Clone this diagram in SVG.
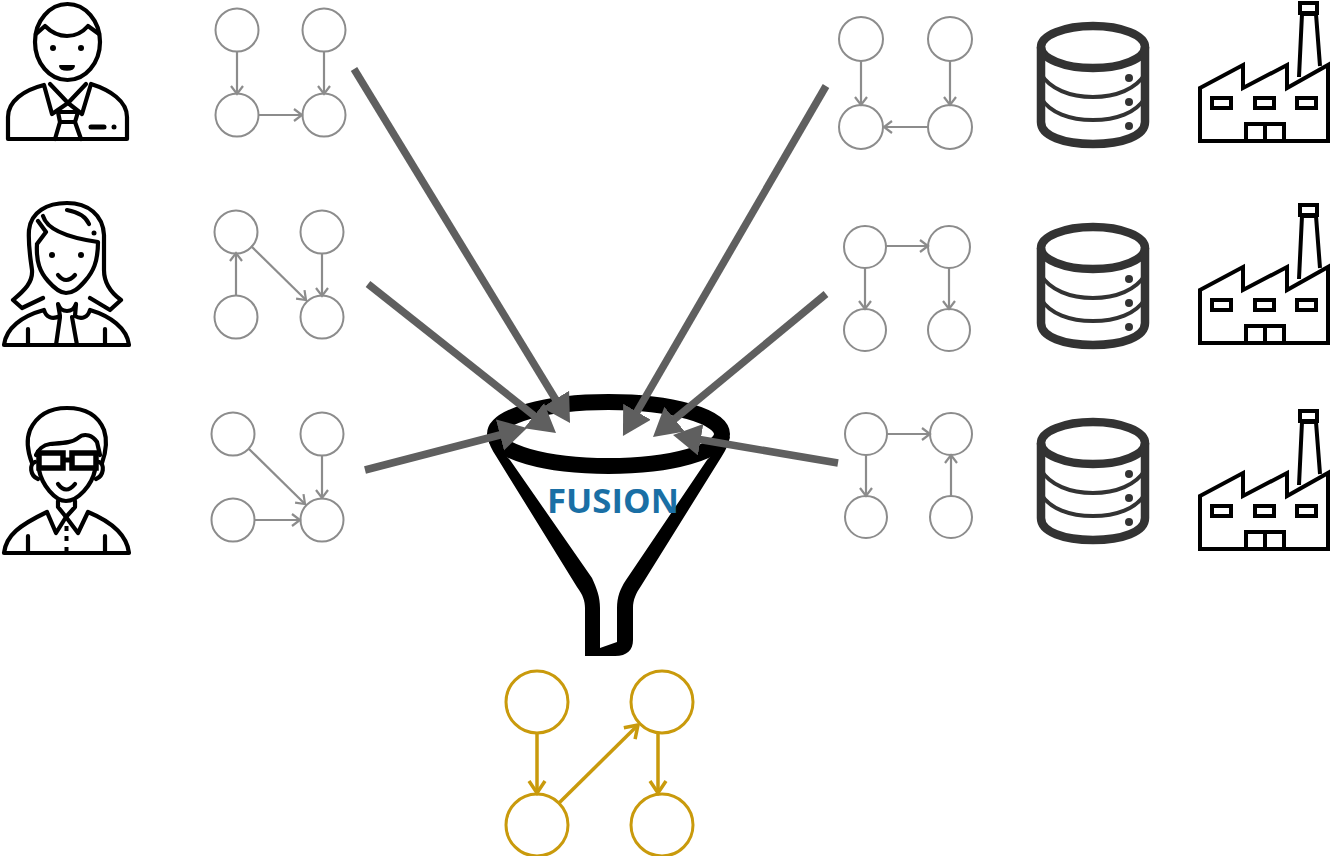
<svg xmlns="http://www.w3.org/2000/svg" width="1333" height="856" viewBox="0 0 1333 856">
<style>
.ico{fill:none;stroke:#000;stroke-width:4.2;stroke-linejoin:round;stroke-linecap:round}
.fac{fill:none;stroke:#000;stroke-width:4;stroke-linejoin:miter}
.db{fill:none;stroke:#333}
.g{fill:none;stroke:#8c8c8c;stroke-width:2}
.ga{fill:none;stroke:#8c8c8c;stroke-width:2.200;marker-end:url(#grey)}
.y{fill:none;stroke:#c99a0c;stroke-width:3}
.ya{fill:none;stroke:#c99a0c;stroke-width:3.500;marker-end:url(#gold)}
.big{fill:none;stroke:#5f5f5f;stroke-width:7.500;marker-end:url(#bigh)}
</style>
<defs>
<marker id="grey" markerUnits="userSpaceOnUse" markerWidth="16" markerHeight="16" refX="13" refY="8" orient="auto"><path d="M5,2 L13,8 L5,14" fill="none" stroke="#8c8c8c" stroke-width="2.200"/></marker>
<marker id="gold" markerUnits="userSpaceOnUse" markerWidth="22" markerHeight="22" refX="19" refY="11" orient="auto"><path d="M7,3 L19,11 L7,19" fill="none" stroke="#c99a0c" stroke-width="3.500"/></marker>
<marker id="bigh" markerUnits="userSpaceOnUse" markerWidth="34" markerHeight="34" refX="4" refY="16" orient="auto"><path d="M0,0 L28,16 L0,32 Z" fill="#5f5f5f"/></marker>
<g id="db"><ellipse class="db" stroke-width="8.500" cx="1093" cy="47" rx="52" ry="21"/><path class="db" stroke-width="8.500" d="M1041,47 V122 C1041,136 1064,144 1093,144 C1122,144 1145,136 1145,122 V47"/><path class="db" stroke-width="4" d="M1041,74 C1050,89 1070,97 1093,97 C1116,97 1136,89 1145,74 M1041,98 C1050,113 1070,120 1093,120 C1116,120 1136,113 1145,98"/><circle cx="1129" cy="78" r="4" fill="#333"/><circle cx="1129" cy="102" r="4" fill="#333"/><circle cx="1129" cy="126" r="4" fill="#333"/></g>
<g id="fac"><path class="fac" d="M1200,88 L1243,65 V88 L1287,65 V88 L1328,65 V141 H1200 Z"/><path class="fac" d="M1299,77 L1302,14 H1316 L1320,66"/><rect class="fac" x="1300" y="3" width="17" height="10"/><rect class="fac" x="1212" y="98" width="19" height="10"/><rect class="fac" x="1255" y="98" width="19" height="10"/><rect class="fac" x="1297" y="98" width="19" height="10"/><path class="fac" d="M1246,141 V124 H1284 V141 M1265,124 V141"/></g>
</defs>

<g id="person-man">
<ellipse class="ico" cx="67.500" cy="42" rx="32.500" ry="38"/>
<path class="ico" d="M36,34 L45,26 C52,33 60,36 67,36 C74,36 82,33 88,26 L99,34"/>
<circle cx="53" cy="48" r="3" fill="#000"/><circle cx="81" cy="48" r="3" fill="#000"/>
<path d="M60,66 H74 C73,71 61,71 60,66 Z" fill="#000" stroke="#000" stroke-width="2" stroke-linejoin="round"/>
<path class="ico" d="M8,139 V117 C8,101 24,90 44,85 L52,114 L68,103 L82,114 L91,84 C110,90 127,101 127,117 V139 Z"/>
<path class="ico" d="M50,84 L68,103 L86,84 M58,112 H78 L75,122 H60 Z M60,122 L55,139 M75,122 L81,139"/>
<path d="M91,127 H104" stroke="#000" stroke-width="5" stroke-linecap="round"/><circle cx="114" cy="127" r="2.500" fill="#000"/>
</g>

<g id="person-woman">
<path class="ico" d="M43,298 L22,308 L13,300 C25,290 33,282 32,270 C30,255 28,245 29,230 C31,212 47,203 67,203 C88,203 103,215 104,235 V270 C104,282 110,292 121,300 L110,310 L90,298"/>
<path class="ico" d="M37,244 C36,262 40,272 48,281 C55,289 60,293 66,293 C73,293 78,289 85,281 C93,272 98,262 98,242 C70,238 47,230 43,216 M38,221 L46,232 L37,244"/>
<path class="ico" d="M67,210 C78,212 86,217 89,224"/>
<circle cx="94" cy="233" r="2.500" fill="#000"/><circle cx="52" cy="255" r="3" fill="#000"/><circle cx="81" cy="255" r="3" fill="#000"/>
<path class="ico" d="M58,275 Q66,285 75,275"/>
<path class="ico" d="M4,345 C6,328 22,316 44,310 C46,317 52,320 60,316 L58,304 C60,309 62,311 67,311 C72,311 74,309 76,304 L75,316 C82,320 88,317 90,310 C110,316 127,328 129,345 Z"/>
<path class="ico" d="M60,317 L56,345 M72,317 L77,345 M28,329 V345 M105,329 V345"/>
</g>

<g id="person-glasses">
<path class="ico" d="M32,463 C27,450 26,440 30,430 C37,415 50,408 67,408 C85,408 98,415 104,430 C108,442 106,452 102,463"/>
<path class="ico" d="M36,455 C38,450 43,445 50,444 C62,443 72,443 78,438 C85,432 93,436 97,442 L100,455"/>
<rect x="39" y="453" width="24" height="15" fill="none" stroke="#000" stroke-width="5.500"/><rect x="72" y="453" width="24" height="15" fill="none" stroke="#000" stroke-width="5.500"/><path d="M63,460 H72" stroke="#000" stroke-width="5"/>
<path class="ico" d="M35,462 C29,464 30,476 38,479 M99,462 C105,464 104,476 96,479"/>
<path class="ico" d="M39,470 C42,485 55,501 66,501 C78,501 92,485 95,470"/>
<path class="ico" d="M58,484 Q66,495 75,484"/>
<path class="ico" d="M4,553 C6,535 20,525 47,512 L56,533 L66,517 L78,533 L88,512 C112,522 127,535 129,553 Z"/>
<path class="ico" d="M58,501 V507 L66,517 L75,507 V501 M28,536 V553 M105,536 V553"/>
<path d="M66.500,526 V531 M66.500,536 V541 M66.500,547 V552" stroke="#000" stroke-width="4"/>
</g>

<g id="graph-l1"><circle class="g" cx="237" cy="30" r="21.500"/><circle class="g" cx="324" cy="30" r="21.500"/><circle class="g" cx="237" cy="115" r="21.500"/><circle class="g" cx="324" cy="115" r="21.500"/></g>
<g id="graph-l2"><circle class="g" cx="236" cy="232" r="21.500"/><circle class="g" cx="322" cy="232" r="21.500"/><circle class="g" cx="236" cy="317" r="21.500"/><circle class="g" cx="322" cy="317" r="21.500"/></g>
<g id="graph-l3"><circle class="g" cx="233" cy="434" r="21.500"/><circle class="g" cx="322" cy="434" r="21.500"/><circle class="g" cx="233" cy="520" r="21.500"/><circle class="g" cx="322" cy="520" r="21.500"/></g>
<g id="graph-r1"><circle class="g" cx="861" cy="39" r="22"/><circle class="g" cx="950" cy="39" r="22"/><circle class="g" cx="861" cy="127" r="22"/><circle class="g" cx="950" cy="127" r="22"/></g>
<g id="graph-r2"><circle class="g" cx="865" cy="247" r="21"/><circle class="g" cx="949" cy="247" r="21"/><circle class="g" cx="865" cy="330" r="21"/><circle class="g" cx="949" cy="330" r="21"/></g>
<g id="graph-r3"><circle class="g" cx="866" cy="434" r="21"/><circle class="g" cx="951" cy="434" r="21"/><circle class="g" cx="866" cy="517" r="21"/><circle class="g" cx="951" cy="517" r="21"/></g>

<g id="db-1"><use href="#db"/></g>
<g id="db-2"><use href="#db" y="201"/></g>
<g id="db-3"><use href="#db" y="396"/></g>
<g id="factory-1"><use href="#fac"/></g>
<g id="factory-2"><use href="#fac" y="202"/></g>
<g id="factory-3"><use href="#fac" y="408"/></g>

<g id="funnel">
<path fill="#000" fill-rule="evenodd" d="M487,436 C489,444 492,450 496,456 L577,587 C583,595 585,601 585,608 V656 H615 C627,656 633,650 633,640 V608 C633,600 636,593 641,586 L722,456 C726,450 729,443 730,436 L707,460 L626,580 C620,589 617,597 617,608 V642 L600,648 V608 C600,597 597,589 592,578 L510,460 Z"/>
<ellipse cx="608.500" cy="434" rx="113.500" ry="32" fill="none" stroke="#000" stroke-width="16"/>
<text x="613" y="513" text-anchor="middle" font-family="'Open Sans',sans-serif" font-weight="700" font-size="34" fill="#1a6fa5" textLength="132" lengthAdjust="spacingAndGlyphs">FUSION</text>
</g>

<g id="graph-result"><circle class="y" cx="537" cy="702" r="31"/><circle class="y" cx="662" cy="702" r="31"/><circle class="y" cx="537" cy="825" r="31"/><circle class="y" cx="662" cy="825" r="31"/></g>

<g id="connectors">
<line class="big" x1="354" y1="69" x2="557.500" y2="402.500"/>
<line class="big" x1="368" y1="284" x2="537.200" y2="418.100"/>
<line class="big" x1="365" y1="470" x2="503.800" y2="434"/>
<line class="big" x1="826" y1="86" x2="635" y2="415.200"/>
<line class="big" x1="826" y1="294" x2="671.500" y2="421.700"/>
<line class="big" x1="838" y1="463" x2="696.700" y2="439"/>
<path class="ga" d="M237,51 V94"/><path class="ga" d="M324,51 V94"/><path class="ga" d="M259,115 H302"/>
<path class="ga" d="M236,296 V253"/><path class="ga" d="M322,253 V296"/><path class="ga" d="M251,246 L306,300"/>
<path class="ga" d="M249,449 L305,504"/><path class="ga" d="M322,455 V498"/><path class="ga" d="M254,520 H300"/>
<path class="ga" d="M861,61 V105"/><path class="ga" d="M950,61 V105"/><path class="ga" d="M928,127 H884"/>
<path class="ga" d="M886,246 H928"/><path class="ga" d="M865,268 V309"/><path class="ga" d="M949,268 V309"/>
<path class="ga" d="M887,434 H930"/><path class="ga" d="M866,455 V496"/><path class="ga" d="M951,496 V455"/>
<path class="ya" d="M537,733 V793"/><path class="ya" d="M559,803 L638,725"/><path class="ya" d="M658,733 V793"/>
</g>
</svg>
